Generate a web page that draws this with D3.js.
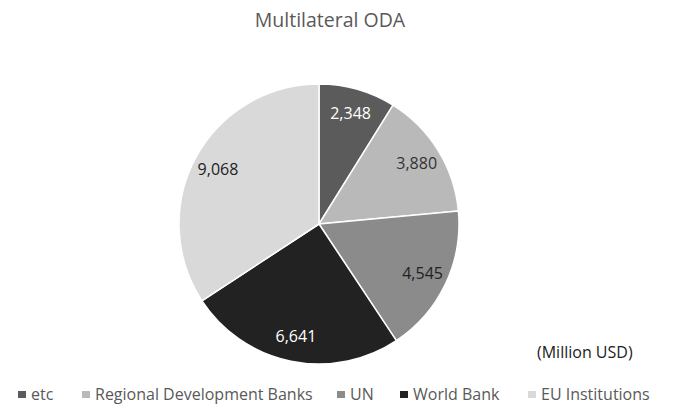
<!DOCTYPE html>
<html><head><meta charset="utf-8">
<script src="https://cdn.jsdelivr.net/npm/d3@7"></script>
<style>body{margin:0;background:#fff}svg{display:block}</style>
</head><body>
<svg id="c" width="678" height="404"></svg>
<script>
const categories = ["etc", "Regional Development Banks", "UN", "World Bank", "EU Institutions"];
const values = [2348, 3880, 4545, 6641, 9068];
const colors = ["#5b5b5b", "#b9b9b9", "#8b8b8b", "#222222", "#d9d9d9"];
const labelColors = ["#ffffff", "#333333", "#222222", "#ffffff", "#222222"];
const title = "Multilateral ODA";
const unit = "(Million USD)";

const svg = d3.select("#c");
const font = "'Open Sans', sans-serif";
const cx = 319, cy = 224, R = 140;

svg.append("text").attr("x", 330).attr("y", 27).attr("text-anchor", "middle")
  .attr("font-family", font).attr("font-size", 19.5).attr("fill", "#595959").text(title);

const data = categories.map((c, i) => ({c, v: values[i], i}));
const pie = d3.pie().value(d => d.v).sort(null);
const arcs = pie(data);
const arc = d3.arc().innerRadius(0).outerRadius(R);
const labelArc = d3.arc().innerRadius(R * 0.82).outerRadius(R * 0.82);

const g = svg.append("g").attr("transform", `translate(${cx},${cy})`);
g.selectAll("path").data(arcs).enter().append("path")
  .attr("d", arc).attr("fill", d => colors[d.data.i])
  .attr("stroke", "#fff").attr("stroke-width", 1.5);
const fmt = d3.format(",");
g.selectAll("text").data(arcs).enter().append("text")
  .attr("transform", d => `translate(${labelArc.centroid(d)})`)
  .attr("text-anchor", "middle").attr("dy", "0.35em")
  .attr("font-family", font).attr("font-size", 16)
  .attr("fill", d => labelColors[d.data.i]).text(d => fmt(d.data.v));

svg.append("text").attr("x", 537).attr("y", 358)
  .attr("font-family", font).attr("font-size", 16).attr("fill", "#222").text(unit);

const legX = [18, 82, 337, 400, 528];
const leg = svg.append("g");
categories.forEach((c, i) => {
  leg.append("rect").attr("x", legX[i]).attr("y", 391).attr("width", 8).attr("height", 7).attr("fill", colors[i]);
  leg.append("text").attr("x", legX[i] + 13).attr("y", 399.5)
    .attr("font-family", font).attr("font-size", 16).attr("fill", "#595959").text(c);
});
</script>
</body></html>
